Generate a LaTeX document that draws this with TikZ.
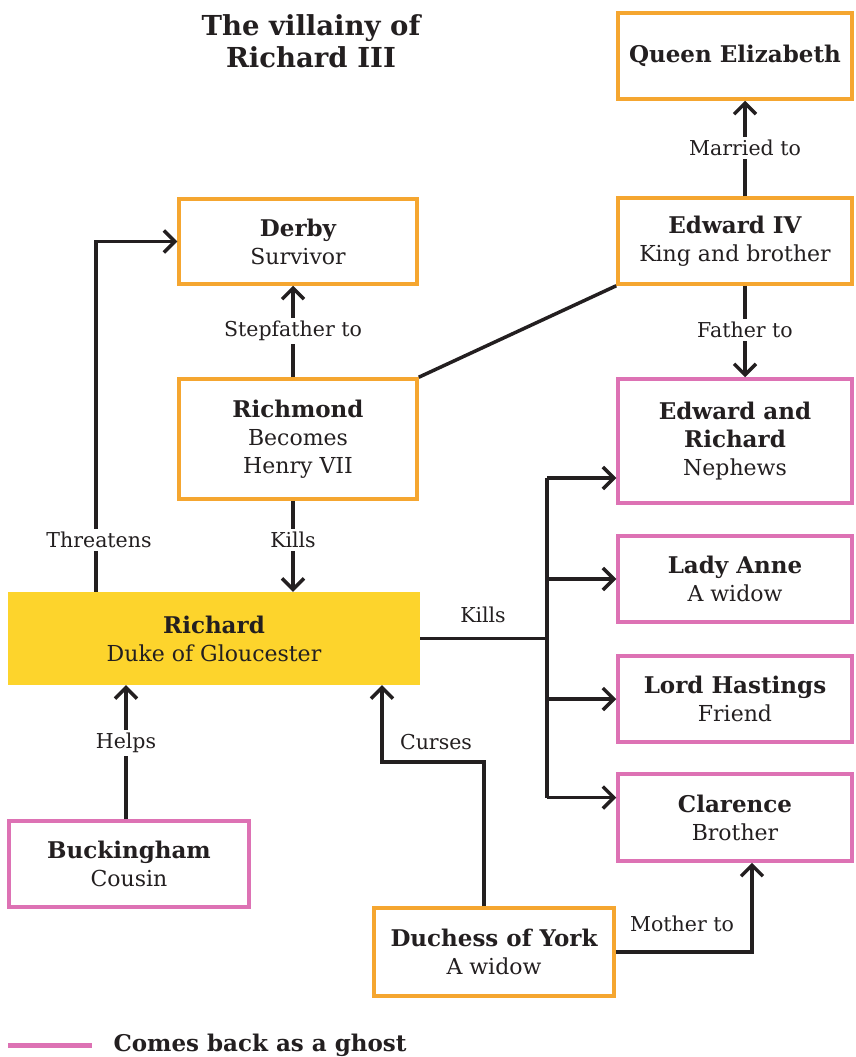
\documentclass[tikz,border=0pt]{standalone}
\usepackage{fontspec}
\setmainfont{DejaVu Serif}
\usetikzlibrary{arrows.meta}
\definecolor{inkc}{HTML}{231F20}
\definecolor{orangec}{HTML}{F5A630}
\definecolor{pinkc}{HTML}{DD72B4}
\definecolor{yellowc}{HTML}{FDD42C}
% bold name line inside a box
\newcommand\nm[1]{{\fontsize{23}{28}\selectfont\bfseries #1}}
\tikzset{
  every node/.style={text=inkc, align=center, font=\fontsize{20.5}{28}\selectfont},
  box/.style={draw, line width=3.5pt, fill=white, inner sep=0pt, font=\fontsize{22}{28}\selectfont},
  orangebox/.style={box, draw=orangec},
  pinkbox/.style={box, draw=pinkc},
  chiefbox/.style={fill=yellowc, inner sep=0pt, font=\fontsize{22}{28}\selectfont},
  conn/.style={draw=inkc, line width=3.5pt},
  tip/.style={-{Straight Barb[length=11pt,width=22pt,line width=3.5pt]}},
  lbl/.style={fill=white, inner sep=3pt},
}
\begin{document}
\begin{tikzpicture}[x=1pt, y=-1pt]
\useasboundingbox (0,0) rectangle (855,1057);

% title
\node[font=\fontsize{27.5}{32}\selectfont\bfseries] (title) at (311,41) {The villainy of\\Richard III};

% boxes
\node[orangebox, minimum width=234pt, minimum height=86pt] (qe) at (735,56) {\nm{Queen Elizabeth}};
\node[orangebox, minimum width=234pt, minimum height=86pt] (edw) at (735,241) {\nm{Edward IV}\\King and brother};
\node[orangebox, minimum width=238pt, minimum height=85pt] (derby) at (298,241.5) {\nm{Derby}\\Survivor};
\node[orangebox, minimum width=238pt, minimum height=120pt] (richmond) at (298,439) {\nm{Richmond}\\Becomes\\Henry VII};
\node[pinkbox, minimum width=234pt, minimum height=124pt] (er) at (735,441) {\nm{Edward and}\\\nm{Richard}\\Nephews};
\node[pinkbox, minimum width=234pt, minimum height=86pt] (anne) at (735,579) {\nm{Lady Anne}\\A widow};
\node[pinkbox, minimum width=234pt, minimum height=86pt] (hast) at (735,699) {\nm{Lord Hastings}\\Friend};
\node[pinkbox, minimum width=234pt, minimum height=87pt] (clar) at (735,817.5) {\nm{Clarence}\\Brother};
\node[chiefbox, minimum width=412pt, minimum height=93pt] (rich) at (214,638.5) {\nm{Richard}\\Duke of Gloucester};
\node[pinkbox, minimum width=240pt, minimum height=86pt] (buck) at (129,864) {\nm{Buckingham}\\Cousin};
\node[orangebox, minimum width=240pt, minimum height=88pt] (duch) at (494,952) {\nm{Duchess of York}\\A widow};

% helper points for the bent connectors
\coordinate (trunk) at (547,0);
\coordinate (cursebend) at (382,762);

% Edward IV links
\draw[conn, tip] ([xshift=10pt]edw.north) -- ([xshift=10pt]qe.south);
\node[lbl] (marr) at (745,148) {Married to};
\draw[conn, tip] ([xshift=10pt]edw.south) -- ([xshift=10pt]er.north);
\node[lbl] (fath) at (745,330) {Father to};

% Richmond links
\draw[conn, tip] ([xshift=-5pt]richmond.north) -- ([xshift=-5pt]derby.south);
\node[lbl] (step) at (293,331) {Stepfather to};
\draw[conn, tip] ([xshift=-5pt]richmond.south) -- ([xshift=-5pt]richmond.south |- rich.north);
\node[lbl] (rkills) at (293,540) {Kills};
\draw[conn] (richmond.north east) -- (edw.south west);

% Richard threatens Derby
\draw[conn, tip] ([xshift=-118pt]rich.north) |- (derby.west);
\node[lbl] (threat) at (99,540) {Threatens};

% Richard kills the four victims
\draw[conn] (rich.east) -- (rich.east -| trunk);
\node (kills) at (483,615) {Kills};
\draw[conn] ([yshift=-37pt]trunk |- er.west) -- ([yshift=20pt]trunk |- clar.west);
\draw[conn, tip] ([yshift=-37pt]trunk |- er.west) -- ([yshift=-37pt]er.west);
\draw[conn, tip] (trunk |- anne.west) -- (anne.west);
\draw[conn, tip] (trunk |- hast.west) -- (hast.west);
\draw[conn, tip] ([yshift=20pt]trunk |- clar.west) -- ([yshift=20pt]clar.west);

% Buckingham helps Richard
\draw[conn, tip] ([xshift=-3pt]buck.north) -- ([xshift=-3pt]buck.north |- rich.south);
\node[lbl] (helps) at (126,743) {Helps};

% Duchess of York
\draw[conn, tip] ([xshift=-10pt]duch.north) |- (cursebend) -- (cursebend |- rich.south);
\node (curses) at (436,742) {Curses};
\draw[conn, tip] (duch.east) -| ([xshift=17pt]clar.south);
\node (mother) at (682,924) {Mother to};

% legend
\draw[draw=pinkc, line width=5pt] (8,1045) coordinate (legA) -- (92,1045) coordinate (legB);
\node[font=\fontsize{23}{28}\selectfont\bfseries, anchor=west] (legend) at (110,1045) {Comes back as a ghost};
\end{tikzpicture}
\end{document}
